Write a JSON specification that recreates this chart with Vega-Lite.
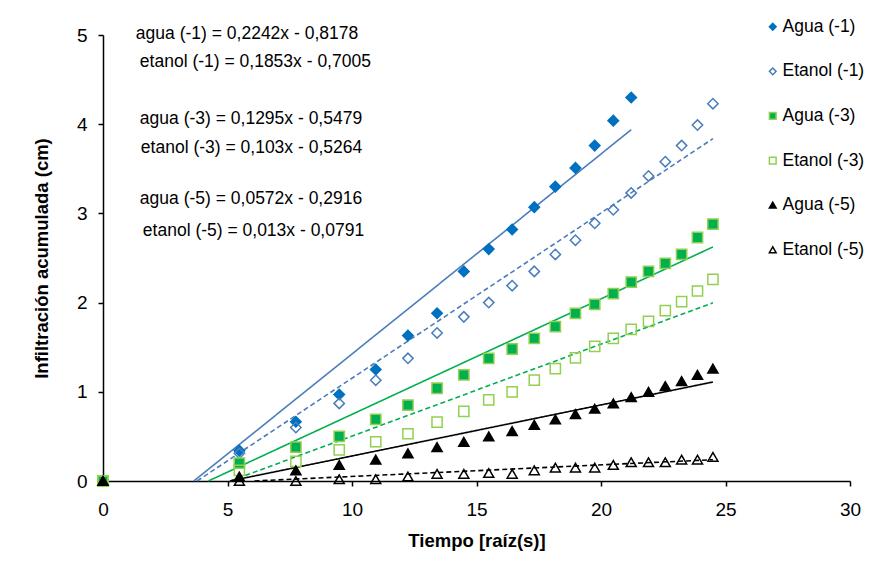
{
  "$schema": "https://vega.github.io/schema/vega-lite/v6.json",
  "autosize": {"type": "none"},
  "width": 747,
  "height": 446,
  "padding": {"left": 103, "top": 35, "right": 37, "bottom": 92},
  "background": "white",
  "config": {
    "view": {"stroke": null},
    "font": "Liberation Sans",
    "axis": {"grid": false, "domainColor": "black", "tickColor": "black", "domainWidth": 1.5, "tickWidth": 1.5, "tickSize": 5, "labelColor": "black", "labelFont": "Liberation Sans", "labelFontSize": 19, "titleFont": "Liberation Sans", "titleFontSize": 18.5, "titleFontWeight": "bold", "titleColor": "black"}
  },
  "datasets": {
    "eq": [
      {"x": 1.32, "y": 5.01, "t": "agua (-1) = 0,2242x - 0,8178"},
      {"x": 1.48, "y": 4.70, "t": "etanol (-1) = 0,1853x - 0,7005"},
      {"x": 1.48, "y": 4.06, "t": "agua (-3) = 0,1295x - 0,5479"},
      {"x": 1.52, "y": 3.73, "t": "etanol (-3) = 0,103x - 0,5264"},
      {"x": 1.48, "y": 3.16, "t": "agua (-5) = 0,0572x - 0,2916"},
      {"x": 1.60, "y": 2.80, "t": "etanol (-5) = 0,013x - 0,0791"}
    ],
    "trend": [
      {"s": "Agua (-1)", "x": 3.648, "y": 0},
      {"s": "Agua (-1)", "x": 21.213, "y": 3.938},
      {"s": "Etanol (-1)", "x": 3.780, "y": 0},
      {"s": "Etanol (-1)", "x": 24.495, "y": 3.838},
      {"s": "Agua (-3)", "x": 4.231, "y": 0},
      {"s": "Agua (-3)", "x": 24.495, "y": 2.624},
      {"s": "Etanol (-3)", "x": 5.111, "y": 0},
      {"s": "Etanol (-3)", "x": 24.495, "y": 1.997},
      {"s": "Agua (-5)", "x": 5.098, "y": 0},
      {"s": "Agua (-5)", "x": 24.495, "y": 1.110},
      {"s": "Etanol (-5)", "x": 6.085, "y": 0},
      {"s": "Etanol (-5)", "x": 24.495, "y": 0.239}
    ],
    "pts": [
      {"s": "Agua (-1)", "x": 0, "y": 0},
      {"s": "Agua (-1)", "x": 5.477, "y": 0.34},
      {"s": "Agua (-1)", "x": 7.746, "y": 0.665},
      {"s": "Agua (-1)", "x": 9.487, "y": 0.97},
      {"s": "Agua (-1)", "x": 10.954, "y": 1.25},
      {"s": "Agua (-1)", "x": 12.247, "y": 1.63},
      {"s": "Agua (-1)", "x": 13.416, "y": 1.88},
      {"s": "Agua (-1)", "x": 14.491, "y": 2.35},
      {"s": "Agua (-1)", "x": 15.492, "y": 2.60},
      {"s": "Agua (-1)", "x": 16.432, "y": 2.82},
      {"s": "Agua (-1)", "x": 17.321, "y": 3.07},
      {"s": "Agua (-1)", "x": 18.166, "y": 3.30},
      {"s": "Agua (-1)", "x": 18.974, "y": 3.51},
      {"s": "Agua (-1)", "x": 19.748, "y": 3.76},
      {"s": "Agua (-1)", "x": 20.494, "y": 4.04},
      {"s": "Agua (-1)", "x": 21.213, "y": 4.30},
      {"s": "Etanol (-1)", "x": 0, "y": 0},
      {"s": "Etanol (-1)", "x": 5.477, "y": 0.31},
      {"s": "Etanol (-1)", "x": 7.746, "y": 0.60},
      {"s": "Etanol (-1)", "x": 9.487, "y": 0.87},
      {"s": "Etanol (-1)", "x": 10.954, "y": 1.13},
      {"s": "Etanol (-1)", "x": 12.247, "y": 1.375},
      {"s": "Etanol (-1)", "x": 13.416, "y": 1.66},
      {"s": "Etanol (-1)", "x": 14.491, "y": 1.84},
      {"s": "Etanol (-1)", "x": 15.492, "y": 2.00},
      {"s": "Etanol (-1)", "x": 16.432, "y": 2.19},
      {"s": "Etanol (-1)", "x": 17.321, "y": 2.35},
      {"s": "Etanol (-1)", "x": 18.166, "y": 2.54},
      {"s": "Etanol (-1)", "x": 18.974, "y": 2.70},
      {"s": "Etanol (-1)", "x": 19.748, "y": 2.89},
      {"s": "Etanol (-1)", "x": 20.494, "y": 3.04},
      {"s": "Etanol (-1)", "x": 21.213, "y": 3.23},
      {"s": "Etanol (-1)", "x": 21.909, "y": 3.42},
      {"s": "Etanol (-1)", "x": 22.583, "y": 3.58},
      {"s": "Etanol (-1)", "x": 23.238, "y": 3.76},
      {"s": "Etanol (-1)", "x": 23.875, "y": 3.99},
      {"s": "Etanol (-1)", "x": 24.495, "y": 4.23},
      {"s": "Agua (-3)", "x": 0, "y": 0},
      {"s": "Agua (-3)", "x": 5.477, "y": 0.20},
      {"s": "Agua (-3)", "x": 7.746, "y": 0.38},
      {"s": "Agua (-3)", "x": 9.487, "y": 0.50},
      {"s": "Agua (-3)", "x": 10.954, "y": 0.69},
      {"s": "Agua (-3)", "x": 12.247, "y": 0.85},
      {"s": "Agua (-3)", "x": 13.416, "y": 1.04},
      {"s": "Agua (-3)", "x": 14.491, "y": 1.19},
      {"s": "Agua (-3)", "x": 15.492, "y": 1.375},
      {"s": "Agua (-3)", "x": 16.432, "y": 1.48},
      {"s": "Agua (-3)", "x": 17.321, "y": 1.60},
      {"s": "Agua (-3)", "x": 18.166, "y": 1.73},
      {"s": "Agua (-3)", "x": 18.974, "y": 1.88},
      {"s": "Agua (-3)", "x": 19.748, "y": 1.98},
      {"s": "Agua (-3)", "x": 20.494, "y": 2.10},
      {"s": "Agua (-3)", "x": 21.213, "y": 2.23},
      {"s": "Agua (-3)", "x": 21.909, "y": 2.35},
      {"s": "Agua (-3)", "x": 22.583, "y": 2.44},
      {"s": "Agua (-3)", "x": 23.238, "y": 2.54},
      {"s": "Agua (-3)", "x": 23.875, "y": 2.73},
      {"s": "Agua (-3)", "x": 24.495, "y": 2.88},
      {"s": "Etanol (-3)", "x": 0, "y": 0},
      {"s": "Etanol (-3)", "x": 5.477, "y": 0.12},
      {"s": "Etanol (-3)", "x": 7.746, "y": 0.22},
      {"s": "Etanol (-3)", "x": 9.487, "y": 0.35},
      {"s": "Etanol (-3)", "x": 10.954, "y": 0.44},
      {"s": "Etanol (-3)", "x": 12.247, "y": 0.53},
      {"s": "Etanol (-3)", "x": 13.416, "y": 0.66},
      {"s": "Etanol (-3)", "x": 14.491, "y": 0.78},
      {"s": "Etanol (-3)", "x": 15.492, "y": 0.91},
      {"s": "Etanol (-3)", "x": 16.432, "y": 1.00},
      {"s": "Etanol (-3)", "x": 17.321, "y": 1.13},
      {"s": "Etanol (-3)", "x": 18.166, "y": 1.26},
      {"s": "Etanol (-3)", "x": 18.974, "y": 1.38},
      {"s": "Etanol (-3)", "x": 19.748, "y": 1.51},
      {"s": "Etanol (-3)", "x": 20.494, "y": 1.60},
      {"s": "Etanol (-3)", "x": 21.213, "y": 1.70},
      {"s": "Etanol (-3)", "x": 21.909, "y": 1.79},
      {"s": "Etanol (-3)", "x": 22.583, "y": 1.91},
      {"s": "Etanol (-3)", "x": 23.238, "y": 2.01},
      {"s": "Etanol (-3)", "x": 23.875, "y": 2.13},
      {"s": "Etanol (-3)", "x": 24.495, "y": 2.26},
      {"s": "Agua (-5)", "x": 0, "y": 0},
      {"s": "Agua (-5)", "x": 5.477, "y": 0.05},
      {"s": "Agua (-5)", "x": 7.746, "y": 0.12},
      {"s": "Agua (-5)", "x": 9.487, "y": 0.18},
      {"s": "Agua (-5)", "x": 10.954, "y": 0.24},
      {"s": "Agua (-5)", "x": 12.247, "y": 0.31},
      {"s": "Agua (-5)", "x": 13.416, "y": 0.38},
      {"s": "Agua (-5)", "x": 14.491, "y": 0.44},
      {"s": "Agua (-5)", "x": 15.492, "y": 0.50},
      {"s": "Agua (-5)", "x": 16.432, "y": 0.56},
      {"s": "Agua (-5)", "x": 17.321, "y": 0.63},
      {"s": "Agua (-5)", "x": 18.166, "y": 0.69},
      {"s": "Agua (-5)", "x": 18.974, "y": 0.75},
      {"s": "Agua (-5)", "x": 19.748, "y": 0.81},
      {"s": "Agua (-5)", "x": 20.494, "y": 0.87},
      {"s": "Agua (-5)", "x": 21.213, "y": 0.94},
      {"s": "Agua (-5)", "x": 21.909, "y": 1.00},
      {"s": "Agua (-5)", "x": 22.583, "y": 1.065},
      {"s": "Agua (-5)", "x": 23.238, "y": 1.12},
      {"s": "Agua (-5)", "x": 23.875, "y": 1.19},
      {"s": "Agua (-5)", "x": 24.495, "y": 1.26},
      {"s": "Etanol (-5)", "x": 0, "y": 0},
      {"s": "Etanol (-5)", "x": 5.477, "y": 0.0},
      {"s": "Etanol (-5)", "x": 7.746, "y": 0.0},
      {"s": "Etanol (-5)", "x": 9.487, "y": 0.02},
      {"s": "Etanol (-5)", "x": 10.954, "y": 0.02},
      {"s": "Etanol (-5)", "x": 12.247, "y": 0.05},
      {"s": "Etanol (-5)", "x": 13.416, "y": 0.08},
      {"s": "Etanol (-5)", "x": 14.491, "y": 0.08},
      {"s": "Etanol (-5)", "x": 15.492, "y": 0.09},
      {"s": "Etanol (-5)", "x": 16.432, "y": 0.08},
      {"s": "Etanol (-5)", "x": 17.321, "y": 0.12},
      {"s": "Etanol (-5)", "x": 18.166, "y": 0.15},
      {"s": "Etanol (-5)", "x": 18.974, "y": 0.15},
      {"s": "Etanol (-5)", "x": 19.748, "y": 0.15},
      {"s": "Etanol (-5)", "x": 20.494, "y": 0.18},
      {"s": "Etanol (-5)", "x": 21.213, "y": 0.21},
      {"s": "Etanol (-5)", "x": 21.909, "y": 0.21},
      {"s": "Etanol (-5)", "x": 22.583, "y": 0.21},
      {"s": "Etanol (-5)", "x": 23.238, "y": 0.24},
      {"s": "Etanol (-5)", "x": 23.875, "y": 0.24},
      {"s": "Etanol (-5)", "x": 24.495, "y": 0.27}
    ]
  },
  "encoding": {
    "x": {"field": "x", "type": "quantitative", "scale": {"domain": [0, 30], "nice": false, "zero": false}, "axis": {"values": [0, 5, 10, 15, 20, 25, 30], "title": "Tiempo [raíz(s)]", "labelFlush": false, "labelPadding": 14, "titlePadding": 12}},
    "y": {"field": "y", "type": "quantitative", "scale": {"domain": [0, 5], "nice": false}, "axis": {"values": [0, 1, 2, 3, 4, 5], "title": "Infiltración acumulada (cm)", "labelFlush": false, "labelPadding": 11, "titlePadding": 25}}
  },
  "layer": [
    {
      "data": {"name": "eq"},
      "mark": {"type": "text", "align": "left", "baseline": "middle", "font": "Liberation Sans", "fontSize": 17.5, "color": "black"},
      "encoding": {"text": {"field": "t", "type": "nominal"}}
    },
    {
      "data": {"name": "trend"},
      "mark": {"type": "line", "strokeWidth": 1.6},
      "encoding": {
        "detail": {"field": "s", "type": "nominal"},
        "color": {"field": "s", "type": "nominal", "legend": null, "scale": {"domain": ["Agua (-1)", "Agua (-3)", "Agua (-5)", "Etanol (-1)", "Etanol (-3)", "Etanol (-5)"], "range": ["#4A7EBB", "#00B050", "#000000", "#4A7EBB", "#00B050", "#000000"]}},
        "strokeDash": {"field": "s", "type": "nominal", "legend": null, "scale": {"domain": ["Agua (-1)", "Agua (-3)", "Agua (-5)", "Etanol (-1)", "Etanol (-3)", "Etanol (-5)"], "range": [[1, 0], [1, 0], [1, 0], [5, 3], [5, 3], [5, 3]]}}
      }
    },
    {
      "data": {"name": "pts"},
      "mark": {"type": "point", "filled": true, "strokeWidth": 1.5, "opacity": 1, "fillOpacity": 1, "strokeOpacity": 1},
      "encoding": {
        "shape": {"field": "s", "type": "nominal", "scale": {"domain": ["Agua (-1)", "Etanol (-1)", "Agua (-3)", "Etanol (-3)", "Agua (-5)", "Etanol (-5)"], "range": ["diamond", "diamond", "square", "square", "triangle-up", "triangle-up"]},
          "legend": {"title": null, "orient": "none", "legendX": 661, "legendY": -17, "padding": 0, "symbolSize": 45, "symbolStrokeWidth": 1.5, "labelFont": "Liberation Sans", "labelFontSize": 17.5, "labelColor": "black", "labelOffset": 1, "rowPadding": 25.6}},
        "fill": {"field": "s", "type": "nominal", "legend": {"title": null}, "scale": {"domain": ["Agua (-1)", "Etanol (-1)", "Agua (-3)", "Etanol (-3)", "Agua (-5)", "Etanol (-5)"], "range": ["#0070C0", "transparent", "#00B050", "transparent", "#000000", "transparent"]}},
        "stroke": {"field": "s", "type": "nominal", "legend": {"title": null}, "scale": {"domain": ["Agua (-1)", "Etanol (-1)", "Agua (-3)", "Etanol (-3)", "Agua (-5)", "Etanol (-5)"], "range": ["#0070C0", "#4A7EBB", "#92D050", "#92D050", "#000000", "#000000"]}},
        "size": {"field": "s", "type": "nominal", "legend": null, "scale": {"domain": ["Etanol (-5)", "Agua (-5)", "Etanol (-3)", "Agua (-3)", "Etanol (-1)", "Agua (-1)"], "range": [100, 110, 72, 72, 100, 120]}}
      }
    }
  ]
}
